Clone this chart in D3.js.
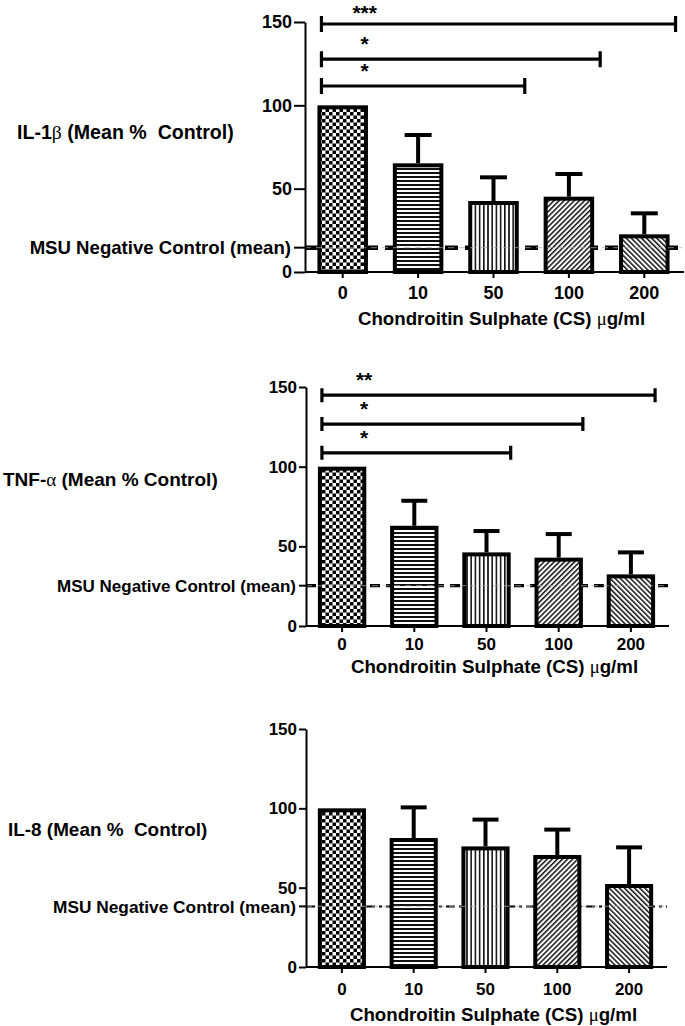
<!DOCTYPE html>
<html>
<head>
<meta charset="utf-8">
<script src="https://cdn.jsdelivr.net/npm/d3@7"></script>
<style>
  html, body { margin: 0; padding: 0; background: #fff; }
  svg { display: block; font-family: "Liberation Sans", Arial, sans-serif; font-weight: bold; }
  text { white-space: pre; }
</style>
</head>
<body>
<div id="chart"></div>
<script>
// data
const categories = ['0', '10', '50', '100', '200'];

const il1b_mean = [100, 65.2, 42.6, 45.2, 22.6];
const il1b_sem  = [0, 17.0, 14.2, 13.6, 12.6];
const tnf_mean  = [100, 62.9, 46.2, 42.9, 32.4];
const tnf_sem   = [0, 15.7, 13.4, 14.8, 13.8];
const il8_mean  = [100, 81.3, 76.0, 70.6, 52.3];
const il8_sem   = [0, 19.3, 16.9, 16.0, 23.1];

// MSU negative control means
const msu_mean = [14.6, 25.3, 38.2];

// significance brackets: [to category, height, stars]
const il1b_sig = [['200', 148.8, '***'], ['100', 127.7, '*'], ['50', 111.6, '*']];
const tnf_sig  = [['200', 144.9, '**'], ['100', 126.7, '*'], ['50', 108.7, '*']];
const il8_sig  = [];

const y_ticks = [0, 50, 100, 150];
const x_title = 'Chondroitin Sulphate (CS) ';
const patterns = ['checker', 'hlines', 'vlines', 'diag_up', 'diag_down'];

const width = 685, height = 1026;

const svg = d3.select('#chart').append('svg')
  .attr('width', width)
  .attr('height', height);

svg.append('rect').attr('width', width).attr('height', height).attr('fill', '#fff');

// fill patterns
const defs = svg.append('defs');

const checker = defs.append('pattern')
  .attr('id', 'checker').attr('patternUnits', 'userSpaceOnUse')
  .attr('width', 7).attr('height', 7);
checker.append('rect').attr('width', 7).attr('height', 7).attr('fill', '#fff');
checker.append('rect').attr('width', 3.5).attr('height', 3.5).attr('fill', '#000');
checker.append('rect').attr('x', 3.5).attr('y', 3.5).attr('width', 3.5).attr('height', 3.5).attr('fill', '#000');

const hlines = defs.append('pattern')
  .attr('id', 'hlines').attr('patternUnits', 'userSpaceOnUse')
  .attr('width', 4).attr('height', 4);
hlines.append('rect').attr('width', 4).attr('height', 4).attr('fill', '#fff');
hlines.append('rect').attr('width', 4).attr('height', 2).attr('fill', '#111');

const vlines = defs.append('pattern')
  .attr('id', 'vlines').attr('patternUnits', 'userSpaceOnUse')
  .attr('width', 4.2).attr('height', 4);
vlines.append('rect').attr('width', 4.2).attr('height', 4).attr('fill', '#fff');
vlines.append('rect').attr('width', 1.6).attr('height', 4).attr('fill', '#111');

[['diag_up', 45], ['diag_down', -45]].forEach(([id, angle]) => {
  const p = defs.append('pattern')
    .attr('id', id).attr('patternUnits', 'userSpaceOnUse')
    .attr('width', 3.6).attr('height', 4)
    .attr('patternTransform', `rotate(${angle})`);
  p.append('rect').attr('width', 3.6).attr('height', 4).attr('fill', '#fff');
  p.append('rect').attr('width', 1.5).attr('height', 4).attr('fill', '#111');
});

// panel layout
const panels = [
  {
    mean: il1b_mean, sem: il1b_sem, msu: msu_mean[0], sig: il1b_sig,
    title: ['IL-1', 'β', ' (Mean %  Control)'],
    top: 22, bottom: 272, left: 305, right: 682,
    titleX: 17, titleY: 139, tickFont: 18, labelFont: 18.6, titleFont: 19.6,
    tickLen: 11, dash: '13,7', dashWidth: 4.5, capW: 27, capH: 8, sigEnd: 6,
    xLabelDy: 21, xTitleDy: 46
  },
  {
    mean: tnf_mean, sem: tnf_sem, msu: msu_mean[1], sig: tnf_sig,
    title: ['TNF-', 'α', ' (Mean % Control)'],
    top: 387, bottom: 626, left: 306, right: 667,
    titleX: 3, titleY: 486, tickFont: 17, labelFont: 17, titleFont: 19,
    tickLen: 7, dash: '10,6', dashWidth: 3.2, capW: 26, capH: 7, sigEnd: 0,
    xLabelDy: 18, xTitleDy: 40
  },
  {
    mean: il8_mean, sem: il8_sem, msu: msu_mean[2], sig: il8_sig,
    title: ['IL-8', '', ' (Mean %  Control)'],
    top: 729, bottom: 967, left: 306, right: 665,
    titleX: 8, titleY: 836, tickFont: 17, labelFont: 17.3, titleFont: 18.9,
    tickLen: 7, dash: '9,4,3,4', dashWidth: 2, capW: 26, capH: 7, sigEnd: 0,
    xLabelDy: 22, xTitleDy: 47
  }
];

panels.forEach(drawPanel);

function drawPanel(p) {
  const g = svg.append('g');

  const y = d3.scaleLinear().domain([0, 150]).range([p.bottom, p.top]);
  const x = d3.scaleBand().domain(categories).range([p.left, p.right])
    .paddingInner(0.33).paddingOuter(0.165);

  const rows = categories.map((c, i) => ({cat: c, mean: p.mean[i], sem: p.sem[i], pat: patterns[i]}));

  // control mean line (behind the bars)
  g.append('line')
    .attr('x1', p.left).attr('x2', p.right + 2)
    .attr('y1', y(p.msu)).attr('y2', y(p.msu))
    .attr('stroke', '#000').attr('stroke-width', p.dashWidth)
    .attr('stroke-dasharray', p.dash);

  // error bars (upper only)
  const err = g.selectAll('g.err').data(rows.filter(d => d.sem > 0)).join('g').attr('class', 'err');
  err.append('line')
    .attr('x1', d => x(d.cat) + x.bandwidth() / 2).attr('x2', d => x(d.cat) + x.bandwidth() / 2)
    .attr('y1', d => y(d.mean)).attr('y2', d => y(d.mean + d.sem))
    .attr('stroke', '#000').attr('stroke-width', 4);
  err.append('line')
    .attr('x1', d => x(d.cat) + x.bandwidth() / 2 - p.capW / 2)
    .attr('x2', d => x(d.cat) + x.bandwidth() / 2 + p.capW / 2)
    .attr('y1', d => y(d.mean + d.sem)).attr('y2', d => y(d.mean + d.sem))
    .attr('stroke', '#000').attr('stroke-width', 4);

  // bars
  g.selectAll('rect.bar').data(rows).join('rect')
    .attr('class', 'bar')
    .attr('x', d => x(d.cat) + 2)
    .attr('width', x.bandwidth() - 4)
    .attr('y', d => y(d.mean) + 2)
    .attr('height', d => y(0) - y(d.mean) - 2)
    .attr('fill', d => `url(#${d.pat})`)
    .attr('stroke', '#000').attr('stroke-width', 4);

  // faint trace of the control line through the bars
  g.append('line')
    .attr('x1', p.left).attr('x2', p.right)
    .attr('y1', y(p.msu)).attr('y2', y(p.msu))
    .attr('stroke', '#aaa').attr('stroke-width', 1.2).attr('opacity', 0.6)
    .attr('stroke-dasharray', '6,5');

  // y axis
  const yAxis = g.append('g')
    .attr('transform', `translate(${p.left},0)`)
    .call(d3.axisLeft(y).tickValues(y_ticks).tickSize(p.tickLen).tickPadding(2).tickSizeOuter(0));
  yAxis.select('.domain').attr('stroke', '#000').attr('stroke-width', 2);
  yAxis.selectAll('.tick line').attr('stroke', '#000').attr('stroke-width', 2);
  yAxis.selectAll('.tick text')
    .attr('font-size', p.tickFont).attr('font-weight', 'bold')
    .attr('font-family', '"Liberation Sans", Arial, sans-serif').attr('fill', '#000');

  // MSU control tick + label
  g.append('line')
    .attr('x1', p.left - p.tickLen).attr('x2', p.left)
    .attr('y1', y(p.msu)).attr('y2', y(p.msu))
    .attr('stroke', '#000').attr('stroke-width', 2);
  g.append('text')
    .attr('x', p.left - p.tickLen - 3).attr('y', y(p.msu))
    .attr('dy', '0.36em').attr('text-anchor', 'end')
    .attr('font-size', p.labelFont)
    .text('MSU Negative Control (mean)');

  // x axis
  const xAxis = g.append('g')
    .attr('transform', `translate(0,${y(0)})`)
    .call(d3.axisBottom(x).tickSize(6).tickSizeOuter(0).tickPadding(8));
  xAxis.select('.domain').attr('stroke', '#000').attr('stroke-width', 2)
    .attr('d', `M${p.left},0H${p.right + 2}`);
  xAxis.selectAll('.tick line').attr('stroke', '#000').attr('stroke-width', 2);
  xAxis.selectAll('.tick text').remove();
  g.selectAll('text.xlab').data(categories).join('text')
    .attr('class', 'xlab')
    .attr('x', d => x(d) + x.bandwidth() / 2)
    .attr('y', y(0) + p.xLabelDy)
    .attr('dy', '0.36em').attr('text-anchor', 'middle')
    .attr('font-size', p.tickFont)
    .text(d => d);

  // x axis title
  const xt = g.append('text')
    .attr('x', (p.left + p.right) / 2 + 8).attr('y', y(0) + p.xTitleDy)
    .attr('dy', '0.36em').attr('text-anchor', 'middle')
    .attr('font-size', 18.7);
  xt.append('tspan').text(x_title);
  xt.append('tspan').attr('font-family', '"Liberation Serif", serif').attr('font-weight', 'normal').text('μ');
  xt.append('tspan').text('g/ml');

  // y title
  const yt = g.append('text')
    .attr('x', p.titleX).attr('y', p.titleY)
    .attr('font-size', p.titleFont);
  yt.append('tspan').text(p.title[0]);
  if (p.title[1]) {
    yt.append('tspan').attr('font-family', '"Liberation Serif", serif').attr('font-weight', 'normal').text(p.title[1]);
  }
  yt.append('tspan').text(p.title[2]);

  // significance brackets
  const x0 = x(categories[0]) + 4;
  const sig = g.selectAll('g.sig').data(p.sig).join('g').attr('class', 'sig');
  sig.append('path')
    .attr('d', d => {
      const x1 = x(d[0]) + x.bandwidth() + p.sigEnd;
      const yy = y(d[1]);
      return `M${x0},${yy - p.capH}V${yy + p.capH}M${x0},${yy}H${x1}M${x1},${yy - p.capH}V${yy + p.capH}`;
    })
    .attr('fill', 'none').attr('stroke', '#000').attr('stroke-width', 3.2);
  // keep the top label inside the page
  sig.append('text')
    .attr('x', x(categories[0]) + x.bandwidth() / 2 + 22)
    .attr('y', d => Math.max(y(d[1]) - 8, 20))
    .attr('text-anchor', 'middle')
    .attr('font-size', 21)
    .text(d => d[2]);
}
</script>
</body>
</html>
